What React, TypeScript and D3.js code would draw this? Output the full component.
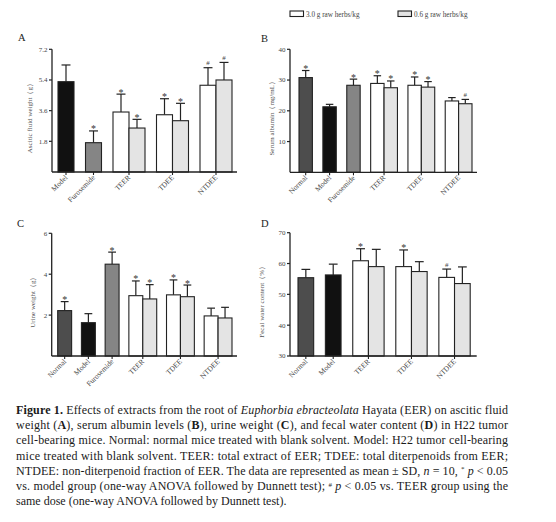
import React from 'react';
import * as d3 from 'd3';

// ---- data ----
const doseLabels = ['3.0 g raw herbs/kg', '0.6 g raw herbs/kg'];

const aCategories = ['Model', 'Furosemide', 'TEER', 'TDEE', 'NTDEE'];
const aMeans = [[5.3], [1.72], [3.52, 2.58], [3.36, 3.01], [5.09, 5.4]];
const aSds = [[0.98], [0.69], [1.05, 0.51], [0.94, 1.02], [1.03, 1.03]];
const aSig = [[''], ['*'], ['*', '*'], ['*', '*'], ['#', '#']];
const aTicks = [1.8, 3.6, 5.4, 7.2];

const bCategories = ['Normal', 'Model', 'Furosemide', 'TEER', 'TDEE', 'NTDEE'];
const bMeans = [[30.8], [21.3], [28.3], [28.9, 27.5], [28.3, 27.7], [23.2, 22.3]];
const bSds = [[2.3], [0.8], [2.0], [2.5, 2.2], [2.7, 1.8], [1.1, 1.4]];
const bSig = [['*'], [''], ['*'], ['*', '*'], ['*', '*'], ['', '#']];
const bTicks = [10, 20, 30, 40];

const cCategories = ['Normal', 'Model', 'Furosemide', 'TEER', 'TDEE', 'NTDEE'];
const cMeans = [[2.22], [1.63], [4.49], [2.95, 2.79], [2.99, 2.9], [1.96, 1.86]];
const cSds = [[0.44], [0.44], [0.59], [0.72, 0.7], [0.73, 0.57], [0.38, 0.52]];
const cSig = [['*'], [''], ['*'], ['*', '*'], ['*', '*'], ['', '']];
const cTicks = [2, 4, 6];

const dCategories = ['Normal', 'Model', 'TEER', 'TDEE', 'NTDEE'];
const dMeans = [[55.4], [56.3], [60.9, 59.0], [59.0, 57.4], [55.5, 53.5]];
const dSds = [[2.7], [3.5], [3.9, 5.6], [5.4, 3.2], [2.7, 5.4]];
const dSig = [[''], [''], ['*', ''], ['*', ''], ['#', '']];
const dTicks = [30, 40, 50, 60, 70];

const SERIF = '"Liberation Serif", "Times New Roman", serif';
const INK = '#222';

function barFill(cat: string, dose: number) {
  if (cat === 'Normal') return '#4d4d4d';
  if (cat === 'Model') return '#111';
  if (cat === 'Furosemide') return '#858585';
  return dose === 0 ? '#fff' : '#e4e4e4';
}

interface PanelProps {
  letter: string;
  yLabel: string;
  categories: string[];
  means: number[][];
  sds: number[][];
  sig: string[][];
  ticks: number[];
  domain: [number, number];
  x0: number;
  x1: number;
  yTop: number;
  yBase: number;
  padL: number;
  padR: number;
  gap: number;
  labelOff: number;
  letterX: number;
  letterY: number;
}

const Panel: React.FC<PanelProps> = (p) => {
  const y = d3.scaleLinear().domain(p.domain).range([p.yBase, p.yTop]);
  const nBars = d3.sum(p.means, (m) => m.length);
  const len = p.x1 - p.x0 - p.padL - p.padR - p.gap * (p.categories.length - 1);
  const bw = len / nBars;
  // cumulative slot position for every group
  const starts: number[] = [];
  let cur = p.x0 + p.padL;
  p.means.forEach((m) => {
    starts.push(cur);
    cur += m.length * bw + p.gap;
  });
  const x = d3.scaleOrdinal<string, number>().domain(p.categories).range(starts);

  return (
    <g fontFamily={SERIF}>
      <text x={p.letterX} y={p.letterY} fontSize={10.5} fill={INK}>{p.letter}</text>
      {p.categories.map((cat, gi) =>
        p.means[gi].map((v, di) => {
          const bx = x(cat) + di * bw;
          const top = y(v);
          const et = y(v + p.sds[gi][di]);
          const cx = bx + bw / 2;
          const s = p.sig[gi][di];
          return (
            <g key={cat + di}>
              <line x1={cx} x2={cx} y1={top} y2={et} stroke={INK} strokeWidth={1.2} />
              <line x1={cx - bw * 0.28} x2={cx + bw * 0.28} y1={et} y2={et} stroke={INK} strokeWidth={1.2} />
              <rect x={bx} y={top} width={bw} height={p.yBase - top} fill={barFill(cat, di)} stroke={INK} strokeWidth={1.1} />
              {s === '*' && (
                <text x={cx} y={et + 1.5} textAnchor="middle" fontSize={10} fill="#333">*</text>
              )}
              {s === '#' && (
                <text x={cx} y={et - 2.5} textAnchor="middle" fontSize={7} fill="#444">#</text>
              )}
            </g>
          );
        })
      )}
      {/* y axis */}
      <line x1={p.x0} x2={p.x0} y1={p.yTop} y2={p.yBase} stroke={INK} strokeWidth={1.3} />
      {p.ticks.map((t) => (
        <g key={t}>
          <line x1={p.x0 - 3} x2={p.x0} y1={y(t)} y2={y(t)} stroke={INK} strokeWidth={1.2} />
          <text x={p.x0 - 4.5} y={y(t) + 2.4} textAnchor="end" fontSize={7} fill="#444">{t}</text>
        </g>
      ))}
      {/* x axis */}
      <line x1={p.x0} x2={p.x1} y1={p.yBase} y2={p.yBase} stroke={INK} strokeWidth={1.3} />
      {p.categories.map((cat, gi) => {
        const cx = x(cat) + (p.means[gi].length * bw) / 2;
        return (
          <g key={cat}>
            <line x1={cx} x2={cx} y1={p.yBase} y2={p.yBase + 3} stroke={INK} strokeWidth={1.1} />
            <text
              transform={`translate(${cx + 2},${p.yBase + 6}) rotate(-45)`}
              textAnchor="end"
              fontSize={7.4}
              fill="#444"
            >
              {cat}
            </text>
          </g>
        );
      })}
      <text
        transform={`translate(${p.x0 - p.labelOff},${(p.yTop + p.yBase) / 2 + 6}) rotate(-90)`}
        textAnchor="middle"
        fontSize={7}
        fill="#555"
      >
        {p.yLabel}
      </text>
    </g>
  );
};

const CAP_X = 16;
const CAP_W = 492;
const CAP_Y = 414;
const CAP_DY = 15.2;

const Caption: React.FC = () => {
  const lines: React.ReactNode[] = [
    <>
      <tspan fontWeight="bold">Figure 1.</tspan> Effects of extracts from the root of{' '}
      <tspan fontStyle="italic">Euphorbia ebracteolata</tspan> Hayata (EER) on ascitic fluid
    </>,
    <>
      weight (<tspan fontWeight="bold">A</tspan>), serum albumin levels (<tspan fontWeight="bold">B</tspan>), urine weight (
      <tspan fontWeight="bold">C</tspan>), and fecal water content (<tspan fontWeight="bold">D</tspan>) in H22 tumor
    </>,
    <>cell-bearing mice. Normal: normal mice treated with blank solvent. Model: H22 tumor cell-bearing</>,
    <>mice treated with blank solvent. TEER: total extract of EER; TDEE: total diterpenoids from EER;</>,
    <>
      NTDEE: non-diterpenoid fraction of EER. The data are represented as mean ± SD, <tspan fontStyle="italic">n</tspan> = 10,{' '}
      <tspan fontSize={7} dy={-3.5}>*</tspan>
      <tspan dy={3.5}> </tspan>
      <tspan fontStyle="italic">p</tspan> &lt; 0.05
    </>,
    <>
      vs. model group (one-way ANOVA followed by Dunnett test);{' '}
      <tspan fontSize={7} dy={-3.5}>#</tspan>
      <tspan dy={3.5}> </tspan>
      <tspan fontStyle="italic">p</tspan> &lt; 0.05 vs. TEER group using the
    </>,
    <>same dose (one-way ANOVA followed by Dunnett test).</>,
  ];
  return (
    <g fontFamily={SERIF} fontSize={12} fill="#1a1a1a">
      {lines.map((l, i) => (
        <text
          key={i}
          x={CAP_X}
          y={CAP_Y + i * CAP_DY}
          textLength={i < lines.length - 1 ? CAP_W : undefined}
          lengthAdjust="spacing"
        >
          {l}
        </text>
      ))}
    </g>
  );
};

const App: React.FC = () => {
  return (
    <svg width={556} height={522} style={{ position: 'absolute', left: 0, top: 0, background: '#fff' }}>
      <rect width={556} height={522} fill="#fff" />
      {/* legend */}
      <g fontFamily={SERIF}>
        {doseLabels.map((d, i) => {
          const lx = i === 0 ? 290 : 398;
          return (
            <g key={d}>
              <rect x={lx} y={11} width={13.5} height={5.5} fill={i === 0 ? '#fff' : '#e4e4e4'} stroke={INK} strokeWidth={1.1} />
              <text x={lx + 16} y={16.5} fontSize={7.2} fill="#444">{d}</text>
            </g>
          );
        })}
      </g>
      <Panel
        letter="A"
        yLabel="Ascitic fluid weight（g）"
        categories={aCategories}
        means={aMeans}
        sds={aSds}
        sig={aSig}
        ticks={aTicks}
        domain={[0, 7.2]}
        x0={52}
        x1={237}
        yTop={49.3}
        yBase={172}
        padL={6}
        padR={5}
        gap={11.5}
        labelOff={20}
        letterX={18}
        letterY={41}
      />
      <Panel
        letter="B"
        yLabel="Serum albumin（mg/mL）"
        categories={bCategories}
        means={bMeans}
        sds={bSds}
        sig={bSig}
        ticks={bTicks}
        domain={[0, 40]}
        x0={290}
        x1={477}
        yTop={49.3}
        yBase={172.3}
        padL={9}
        padR={5}
        gap={10.5}
        labelOff={16}
        letterX={261}
        letterY={42}
      />
      <Panel
        letter="C"
        yLabel="Urine weight（g）"
        categories={cCategories}
        means={cMeans}
        sds={cSds}
        sig={cSig}
        ticks={cTicks}
        domain={[0, 6]}
        x0={51.7}
        x1={237}
        yTop={233.3}
        yBase={356}
        padL={6}
        padR={5}
        gap={9.8}
        labelOff={17}
        letterX={17}
        letterY={226.5}
      />
      <Panel
        letter="D"
        yLabel="Fecal water content（%）"
        categories={dCategories}
        means={dMeans}
        sds={dSds}
        sig={dSig}
        ticks={dTicks}
        domain={[30, 70]}
        x0={290}
        x1={476.7}
        yTop={232.7}
        yBase={356}
        padL={8}
        padR={6.5}
        gap={11.7}
        labelOff={26}
        letterX={261}
        letterY={226.5}
      />
      <Caption />
    </svg>
  );
};

export default App;
